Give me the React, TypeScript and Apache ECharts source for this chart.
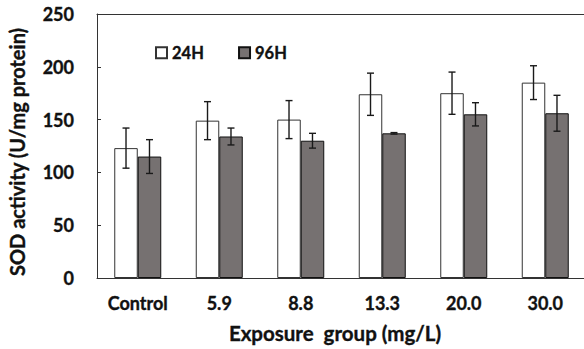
import React, { useEffect, useRef } from "react";
import * as echarts from "echarts";

const categories = ["Control", "5.9", "8.8", "13.3", "20.0", "30.0"];
const mean24 = [123, 149, 150, 174, 175, 185];
const sd24 = [19, 18, 18, 20, 20, 16];
const mean96 = [115, 134, 130, 137, 155, 156];
const sd96 = [16, 8, 7, 0.7, 11, 17];
const seriesNames = ["24H", "96H"];
const yTicks = { min: 0, max: 250, interval: 50 };

const FONT = "Lato";
const INK = "#111";
const heavy = { textBorderColor: INK, textBorderWidth: 0.35 };

function errorRenderer(sign: number) {
  return (params: any, api: any) => {
    const i = api.value(0);
    const v = api.value(1);
    const e = api.value(2);
    const bw = api.size([1, 0])[0];
    const off = sign * bw * 0.144;
    const top = api.coord([i, v + e]);
    const bot = api.coord([i, v - e]);
    const x = top[0] + off;
    const cap = 3.5;
    const style = { stroke: "#1a1a1a", lineWidth: 1.4 };
    return {
      type: "group",
      children: [
        { type: "line", shape: { x1: x, y1: top[1], x2: x, y2: bot[1] }, style },
        { type: "line", shape: { x1: x - cap, y1: top[1], x2: x + cap, y2: top[1] }, style },
        { type: "line", shape: { x1: x - cap, y1: bot[1], x2: x + cap, y2: bot[1] }, style },
      ],
    };
  };
}

export default function App() {
  const ref = useRef<HTMLDivElement>(null);
  useEffect(() => {
    if (!ref.current) return;
    const chart = echarts.init(ref.current, undefined, { renderer: "svg" });
    chart.setOption({
      animation: false,
      textStyle: { fontFamily: FONT },
      grid: {
        left: 97,
        width: 489,
        top: 14,
        height: 264,
        show: false,
      },
      legend: {
        data: seriesNames,
        left: 155,
        top: 44,
        padding: 0,
        itemWidth: 11,
        itemHeight: 11,
        itemGap: 34,
        icon: "rect",
        textStyle: { fontFamily: FONT, fontWeight: "bold", fontSize: 16.5, color: INK, ...heavy },
      },
      xAxis: [
        {
          type: "category",
          data: categories,
          axisLine: { lineStyle: { color: "#333", width: 1 } },
          axisTick: { inside: true, length: 6, lineStyle: { color: "#333" } },
          axisLabel: {
            fontFamily: FONT,
            fontWeight: "bold",
            fontSize: 18,
            color: INK,
            margin: 16,
            ...heavy,
          },
        },
        {
          type: "category",
          data: categories,
          position: "top",
          axisLine: { show: true, lineStyle: { color: "#333", width: 1 } },
          axisTick: { show: false },
          axisLabel: { show: false },
        },
      ],
      yAxis: {
        type: "value",
        min: yTicks.min,
        max: yTicks.max,
        interval: yTicks.interval,
        splitLine: { show: false },
        axisLine: { show: true, lineStyle: { color: "#333", width: 1 } },
        axisTick: { show: true, inside: true, length: 4, lineStyle: { color: "#333" } },
        axisLabel: {
          fontFamily: FONT,
          fontWeight: "bold",
          fontSize: 18,
          color: INK,
          margin: 23,
          ...heavy,
        },
      },
      graphic: [
        {
          type: "text",
          x: 335,
          y: 333,
          style: {
            text: "Exposure  group (mg/L)",
            fontFamily: FONT,
            fontWeight: "bold",
            fontSize: 20.5,
            fill: INK,
            stroke: INK,
            lineWidth: 0.35,
            align: "center",
            verticalAlign: "middle",
          },
        },
        {
          type: "text",
          x: 17,
          y: 152,
          rotation: Math.PI / 2,
          style: {
            text: "SOD activity (U/mg protein)",
            fontFamily: FONT,
            fontWeight: "bold",
            fontSize: 20,
            fill: INK,
            stroke: INK,
            lineWidth: 0.35,
            align: "center",
            verticalAlign: "middle",
          },
        },
      ],
      series: [
        {
          name: seriesNames[0],
          type: "bar",
          data: mean24,
          barWidth: 23.5,
          barGap: "0%",
          itemStyle: { color: "#ffffff", borderColor: "#333", borderWidth: 1 },
        },
        {
          name: seriesNames[1],
          type: "bar",
          data: mean96,
          barWidth: 23.5,
          barGap: "0%",
          itemStyle: { color: "#767171", borderColor: "#111", borderWidth: 1 },
        },
        {
          name: "err24",
          type: "custom",
          renderItem: errorRenderer(-1),
          encode: { x: 0, y: 1 },
          data: categories.map((_, i) => [i, mean24[i], sd24[i]]),
          z: 10,
        },
        {
          name: "err96",
          type: "custom",
          renderItem: errorRenderer(1),
          encode: { x: 0, y: 1 },
          data: categories.map((_, i) => [i, mean96[i], sd96[i]]),
          z: 10,
        },
      ],
    });
    return () => chart.dispose();
  }, []);
  return (
    <div style={{ position: "absolute", left: 0, top: 0, width: 584, height: 349, overflow: "hidden", background: "#fff" }}>
      <div ref={ref} style={{ width: 600, height: 349 }} />
    </div>
  );
}
